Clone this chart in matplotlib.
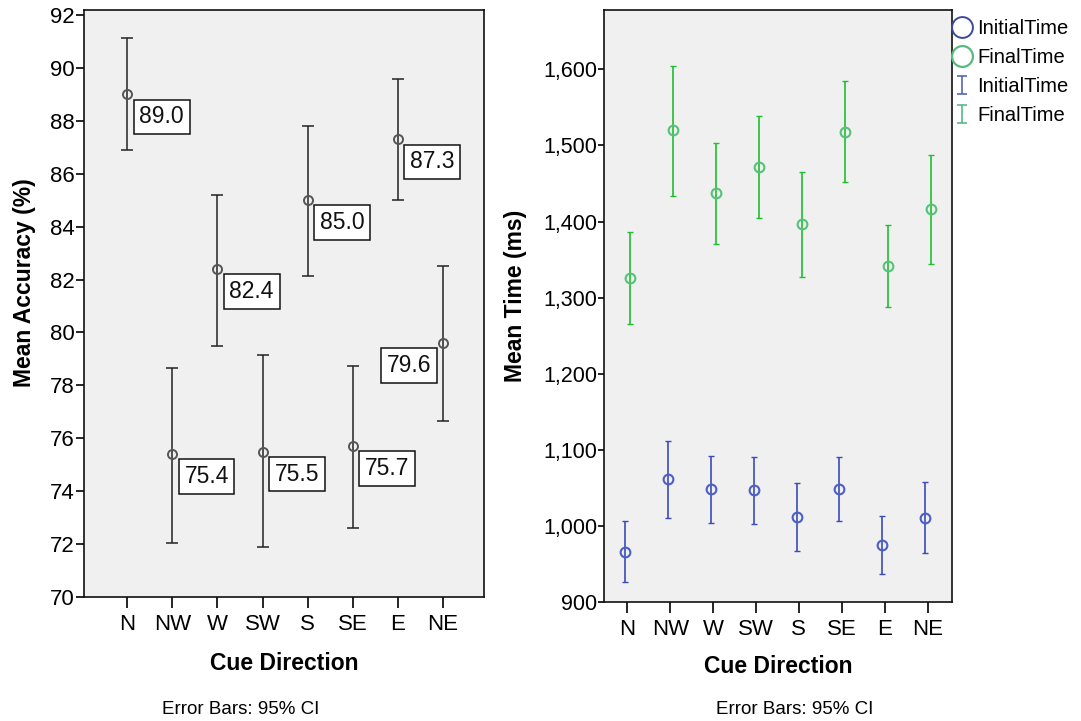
import numpy as np
import matplotlib
matplotlib.use("Agg")
import matplotlib.pyplot as plt
from matplotlib.lines import Line2D
from matplotlib.path import Path

plt.rcParams['font.family'] = ['Liberation Sans', 'DejaVu Sans']

directions = ['N', 'NW', 'W', 'SW', 'S', 'SE', 'E', 'NE']

# left panel: accuracy (%) with 95% CI
acc_mean = [89.0, 75.4, 82.4, 75.5, 85.0, 75.7, 87.3, 79.6]
acc_low = [86.9, 72.05, 79.5, 71.9, 82.15, 72.6, 85.0, 76.65]
acc_high = [91.15, 78.65, 85.2, 79.15, 87.8, 78.75, 89.6, 82.5]

# right panel: time (ms) with 95% CI
init_mean = [966, 1061, 1049, 1047, 1012, 1048, 975, 1011]
init_low = [926, 1010, 1004, 1003, 967, 1006, 937, 964]
init_high = [1006, 1112, 1092, 1090, 1057, 1090, 1013, 1058]

final_mean = [1326, 1520, 1437, 1472, 1397, 1518, 1342, 1416]
final_low = [1266, 1434, 1371, 1405, 1327, 1452, 1288, 1344]
final_high = [1386, 1605, 1503, 1539, 1465, 1585, 1395, 1488]

W, H = 1081, 721
fig = plt.figure(figsize=(W / 100, H / 100), dpi=100)
fig.patch.set_facecolor('white')


def px_axes(x0, y0, x1, y1):
    return fig.add_axes([x0 / W, 1 - y1 / H, (x1 - x0) / W, (y1 - y0) / H])


def style_axes(ax):
    ax.set_facecolor('#f0f0f0')
    for s in ax.spines.values():
        s.set_color('#111111')
        s.set_linewidth(1.2)


# ---------------- left ----------------
ax1 = px_axes(84, 10, 484, 597)
style_axes(ax1)
x = np.arange(len(directions))
m = np.array(acc_mean)
err = [m - np.array(acc_low), np.array(acc_high) - m]
ax1.errorbar(x, m, yerr=err, fmt='none', ecolor='#222222', elinewidth=1.1,
             capsize=4, capthick=1.1)
ax1.plot(x, m, 'o', mfc='none', mec='#555555', ms=6.5, mew=1.4)
for i, v in enumerate(acc_mean):
    if i == len(acc_mean) - 1:
        off, ha = (-12, -11), 'right'
    else:
        off, ha = (12, -11), 'left'
    ax1.annotate(f'{v:.1f}', xy=(i, v), xytext=off, textcoords='offset pixels',
                 ha=ha, va='top', fontsize=16.5, color='#111111',
                 bbox=dict(boxstyle='square,pad=0.25', fc='white', ec='#111111', lw=1.1))
ax1.set_xlim(-0.96, 7.91)
ax1.set_ylim(70, 92.19)
ax1.set_yticks(np.arange(70, 93, 2))
ax1.set_xticks(x)
ax1.set_xticklabels(directions)
ax1.tick_params(axis='x', length=8, width=1.2, labelsize=16, pad=4)
ax1.tick_params(axis='y', length=6, width=1.2, labelsize=16, pad=1)
ax1.set_xlabel('Cue Direction', fontsize=16.5, fontweight='bold')
ax1.xaxis.set_label_coords(0.5, -0.094)
ax1.set_ylabel('Mean Accuracy (%)', fontsize=16.5, fontweight='bold')
ax1.yaxis.set_label_coords(-0.12, 0.535)

# ---------------- right ----------------
ax2 = px_axes(604, 10, 952, 602)
style_axes(ax2)
blue_line, blue_mk = '#3a4cb8', '#4d5fc2'
green_line, green_mk = '#1fbf2f', '#55c27a'

for means, lows, highs, dx, lc, mc in [
        (init_mean, init_low, init_high, -0.055, blue_line, blue_mk),
        (final_mean, final_low, final_high, 0.07, green_line, green_mk)]:
    mm = np.array(means)
    e = [mm - np.array(lows), np.array(highs) - mm]
    _, caps, _ = ax2.errorbar(x + dx, mm, yerr=e, fmt='none', ecolor=lc,
                              elinewidth=1.2, capsize=2, capthick=1.0)
    for c in caps:
        c.set_color('#777777')
    ax2.plot(x + dx, mm, 'o', mfc='none', mec=mc, ms=7, mew=1.5)

ax2.set_xlim(-0.545, 7.57)
ax2.set_ylim(900, 1678)
ax2.set_yticks(np.arange(900, 1601, 100))
ax2.set_yticklabels([f'{v:,}' for v in range(900, 1601, 100)])
ax2.set_xticks(x)
ax2.set_xticklabels(directions)
ax2.tick_params(axis='x', length=8, width=1.2, labelsize=16, pad=4)
ax2.tick_params(axis='y', length=4, width=1.2, labelsize=15.5, pad=1)
ax2.set_xlabel('Cue Direction', fontsize=16.5, fontweight='bold')
ax2.xaxis.set_label_coords(0.5, -0.09)
ax2.set_ylabel('Mean Time (ms)', fontsize=16.5, fontweight='bold')
ax2.yaxis.set_label_coords(-0.221, 0.517)

# legend
ibar = Path([(-0.5, 1), (0.5, 1), (0, 1), (0, -1), (-0.5, -1), (0.5, -1)],
            [Path.MOVETO, Path.LINETO, Path.MOVETO, Path.LINETO, Path.MOVETO, Path.LINETO])
handles = [
    Line2D([], [], ls='none', marker='o', mfc='none', mec='#3a4a9a', ms=15, mew=1.4),
    Line2D([], [], ls='none', marker='o', mfc='none', mec='#55bb80', ms=15, mew=1.6),
    Line2D([], [], ls='none', marker=ibar, mfc='none', mec='#5566bb', ms=13, mew=1.2),
    Line2D([], [], ls='none', marker=ibar, mfc='none', mec='#55bb88', ms=13, mew=1.2),
]
labels = ['InitialTime', 'FinalTime', 'InitialTime', 'FinalTime']
fig.legend(handles, labels, loc='upper left', bbox_to_anchor=(952 / W, 1 - 19 / H),
           frameon=False, fontsize=14.5, handlelength=1.0, handletextpad=0.25,
           labelspacing=0.5, borderpad=0, borderaxespad=0)

fig.text(241 / W, 1 - 709 / H, 'Error Bars: 95% CI', ha='center', va='center', fontsize=13.5)
fig.text(795 / W, 1 - 710 / H, 'Error Bars: 95% CI', ha='center', va='center', fontsize=13.5)

fig.savefig('out.png', dpi=100)
